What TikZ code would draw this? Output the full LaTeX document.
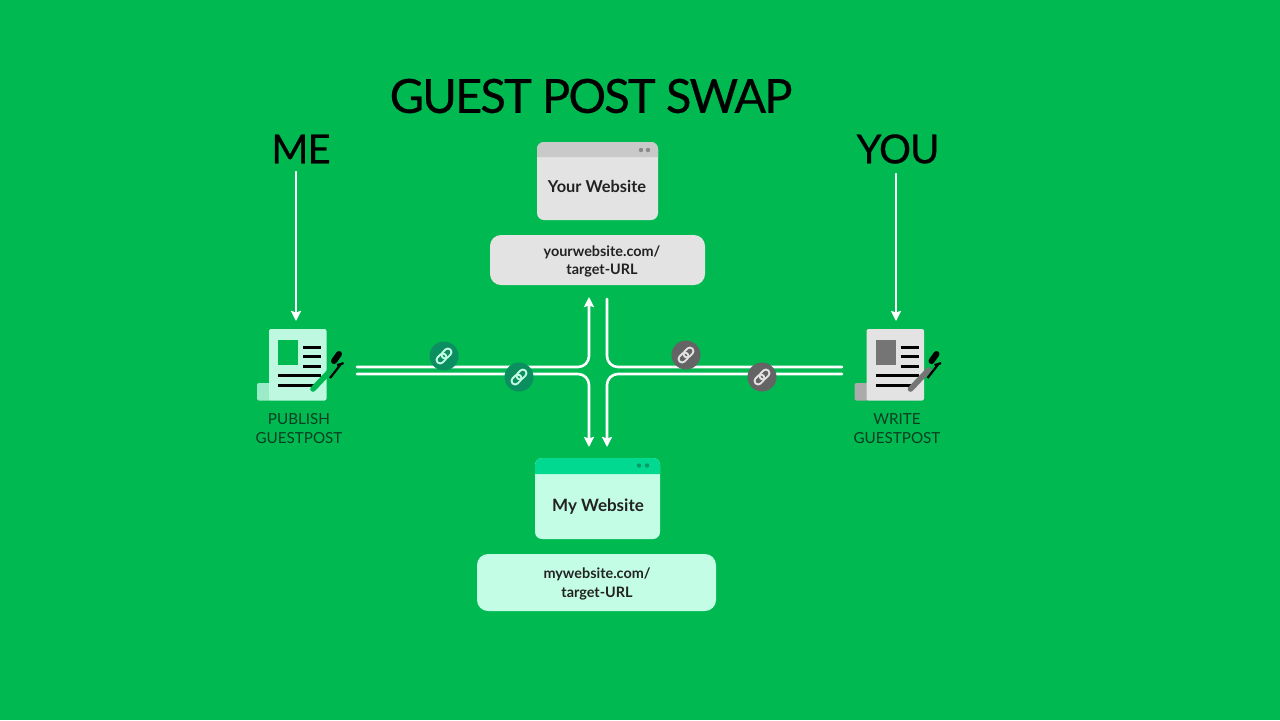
\documentclass[tikz,border=0pt]{standalone}
\usepackage{fontspec}
\setmainfont{Lato}
\newfontfamily\titlefont[FakeBold=0.5,LetterSpace=-3.9]{Lato}
\newfontfamily\headfont[FakeBold=0.5,LetterSpace=-2.5]{Lato}
\usetikzlibrary{arrows.meta}
\definecolor{bggreen}{HTML}{00B950}
\definecolor{mintbody}{HTML}{C4FDE6}
\definecolor{mintpaper}{HTML}{BFF8E0}
\definecolor{minttab}{HTML}{9CEBC8}
\definecolor{minthead}{HTML}{00D98F}
\definecolor{minthdot}{HTML}{069A66}
\definecolor{greybody}{HTML}{E3E3E3}
\definecolor{greyhead}{HTML}{C9C9C9}
\definecolor{greydot}{HTML}{8A8A8A}
\definecolor{greytab}{HTML}{ABABAB}
\definecolor{greyimg}{HTML}{757575}
\definecolor{tealbadge}{HTML}{0C8F60}
\definecolor{greybadge}{HTML}{646464}
\definecolor{inktext}{HTML}{222222}
\definecolor{labeltext}{HTML}{0B3D22}
\tikzset{
  flow/.style={draw=white,line width=1.3pt,line cap=round,rounded corners=5.5pt},
  badge/.style={circle,inner sep=0pt,minimum size=14.5pt},
  sitebox/.style={rounded corners=3.5pt,inner sep=0pt},
  urlbox/.style={rounded corners=5.5pt,inner sep=0pt},
  sitetext/.style={font=\bfseries\fontsize{8.2}{10}\selectfont,text=inktext},
  urltext/.style={font=\bfseries\fontsize{7.2}{10}\selectfont,text=inktext,align=center},
  sidetext/.style={font=\fontsize{7.6}{10}\selectfont,text=labeltext,align=center},
  headtext/.style={font=\headfont\fontsize{20}{24}\selectfont,text=black}
}
% link icon on a badge
\newcommand{\chainlink}[2]{
\begin{scope}[shift={(#1)},rotate=45,line width=0.95pt,draw=#2]
\draw[rounded corners=1.7pt] (-9,-3.6) rectangle (2,3.6);
\draw[rounded corners=1.7pt] (-2,-3.6) rectangle (9,3.6);
\end{scope}}
% paper with picture, text lines and pen
\newcommand{\docicon}[5]{
\begin{scope}[shift={(#1,0)}]
\fill[#3,rounded corners=1pt] (257,383) rectangle (272,400.5);
\fill[#2,rounded corners=1pt] (269,329) rectangle (326.5,400.5);
\fill[#4] (278,340) rectangle (298,365);
\draw[black,line width=1.5pt] (303,347)--(321,347) (303,356)--(321,356) (303,366)--(321,366)
	(278,375)--(321,375) (278,385)--(318,385);
\draw[#5,line width=2.8pt,line cap=round] (313,389)--(331,370);
\draw[black,line width=3pt,line cap=round] (334,361)--(339,354);
\draw[black,line width=1.1pt] (330,378)--(341,364)--(337,365) (341,364)--(343.5,363);
\end{scope}}
\begin{document}
\begin{tikzpicture}[x=0.5pt,y=-0.5pt,line join=round,>={Stealth[length=5pt,width=5pt,inset=0.7pt]}]
\useasboundingbox (0,0) rectangle (1280,720);
\fill[bggreen] (0,0) rectangle (1280,720);
% texts on top
\node[font=\titlefont\fontsize{23.5}{28}\selectfont,text=black] (title) at (591,96) {GUEST POST SWAP};
\node[headtext] (me) at (301,149) {ME};
\node[headtext] (you) at (898,149) {YOU};
% your site
\node[sitebox,fill=greybody,minimum width=60.5pt,minimum height=39pt] (yoursite) at (597.5,181) {};
\fill[greyhead,sharp corners] (537,157) [rounded corners=3.5pt] -- (537,142) -- (658,142) [sharp corners] -- (658,157) -- cycle;
\fill[greydot] (641,150) circle(1.1pt) (648,150) circle(1.1pt);
\node[sitetext] (yourname) at (597,186) {Your Website};
\node[urlbox,fill=greybody,minimum width=107.5pt,minimum height=25pt] (yoururl) at (597.5,260) {};
\node[urltext] (yoururltext) at (602,261.5) {yourwebsite.com/\\[-0.6pt]target-URL};
% my site
\node[sitebox,fill=mintbody,minimum width=62.5pt,minimum height=40.5pt] (mysite) at (597.5,498.5) {};
\fill[minthead,sharp corners] (535,474) [rounded corners=3.5pt] -- (535,458) -- (660,458) [sharp corners] -- (660,474) -- cycle;
\fill[minthdot] (639,465.5) circle(1.1pt) (647,465.5) circle(1.1pt);
\node[sitetext,font=\bfseries\fontsize{8.5}{10}\selectfont] (myname) at (598,507) {My Website};
\node[urlbox,fill=mintbody,minimum width=119.5pt,minimum height=28.5pt] (myurl) at (596.5,582.5) {};
\node[urltext] (myurltext) at (597,584) {mywebsite.com/\\[-0.2pt]target-URL};
% doc icons
\docicon{0}{mintpaper}{minttab}{bggreen}{bggreen}
\docicon{597.5}{greybody}{greytab}{greyimg}{greyimg}
\node[sidetext] (publish) at (299,429) {PUBLISH\\[-0.5pt]GUESTPOST};
\node[sidetext] (write) at (897,429) {WRITE\\[-0.5pt]GUESTPOST};
% end points
\coordinate (mefoot) at (296,172);
\coordinate (medoc) at (296,321);
\coordinate (youfoot) at (896,174);
\coordinate (youdoc) at (896,321);
\coordinate (leftup) at (357,367);
\coordinate (leftlow) at (357,374);
\coordinate (rightup) at (842,367);
\coordinate (rightlow) at (842,374);
\coordinate (topleft) at (589,297);
\coordinate (topright) at (607,299);
\coordinate (lowleft) at (589,447);
\coordinate (lowright) at (607,447);
\draw[flow,->] (mefoot)--(medoc);
\draw[flow,->] (youfoot)--(youdoc);
\draw[flow,->] (leftup) -| (topleft);
\draw[flow,->] (leftlow) -| (lowleft);
\draw[flow] (topright) |- (rightup);
\draw[flow,->] (rightlow) -| (lowright);
% badges
\node[badge,fill=tealbadge] (linka) at (444,356) {};
\node[badge,fill=tealbadge] (linkb) at (519,377) {};
\node[badge,fill=greybadge] (linkc) at (686,355) {};
\node[badge,fill=greybadge] (linkd) at (762,377) {};
\chainlink{linka}{mintbody}
\chainlink{linkb}{mintbody}
\chainlink{linkc}{greybody}
\chainlink{linkd}{greybody}
\end{tikzpicture}
\end{document}
